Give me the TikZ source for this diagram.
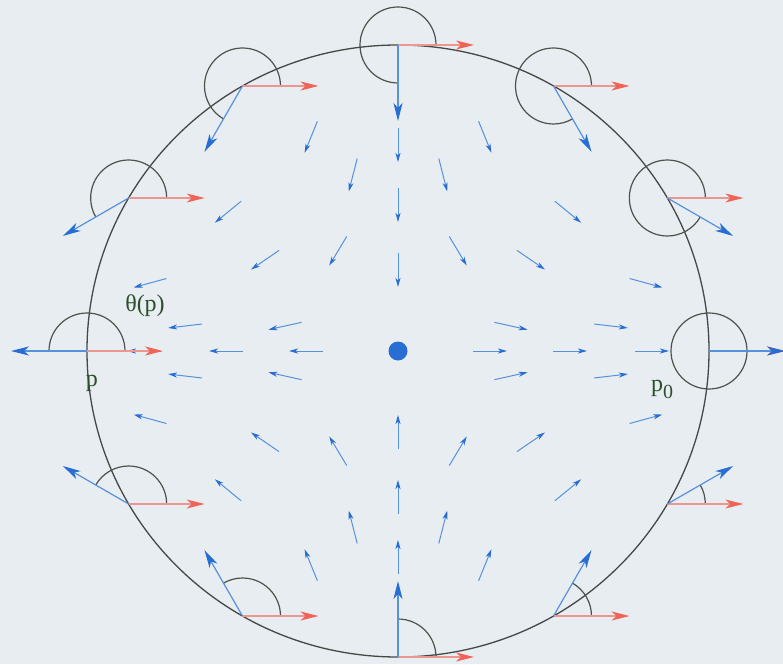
\documentclass[tikz,border=0pt]{standalone}
\usepackage{fontspec}
\setmainfont{Liberation Serif}
\usetikzlibrary{arrows.meta}
\definecolor{bgc}{RGB}{232,237,241}
\definecolor{fblue}{RGB}{85,145,220}
\definecolor{fbluehead}{RGB}{40,110,210}
\definecolor{rline}{RGB}{236,150,145}
\definecolor{rhead}{RGB}{240,100,88}
\definecolor{circc}{RGB}{70,72,70}
\definecolor{arcc}{RGB}{78,82,76}
\definecolor{labc}{RGB}{45,78,45}
\newcommand\farrow[2]{%
  \pgfmathsetmacro\fang{atan2(-(#2),#1)}%
  \pgfmathsetmacro\fangb{\fang+180}%
  \draw[farr] (#1,#2) ++(\fangb:17) -- ++(\fang:34);}
\begin{document}
\begin{tikzpicture}[x=1pt,y=1pt,
  farr/.style={draw=fblue, line width=1pt, -{Stealth[length=9pt,width=5pt,inset=2.5pt,color=fbluehead]}},
  bigblue/.style={draw=fblue, line width=1.2pt, -{Stealth[length=18pt,width=9pt,inset=5pt,color=fbluehead]}},
  redarr/.style={draw=rline, line width=1.1pt, -{Stealth[length=18pt,width=9pt,inset=5pt,color=rhead]}},
  arcst/.style={draw=arcc, line width=1.2pt},
  circst/.style={draw=circc, line width=1.3pt},
  lab/.style={text=labc, font=\fontsize{24}{28}\selectfont, inner sep=0pt}]
\fill[bgc] (-398,-313) rectangle (385,351);
\useasboundingbox (-398,-313) rectangle (385,351);
% interior field
\foreach \a/\b in {87/214, 45/176, 170/139, 133/91, 113/25, 213/25, 248/68, 60/100} {
  \farrow{-\a}{\b}
  \farrow{\a}{\b}
  \farrow{-\a}{-\b}
  \farrow{\a}{-\b}
}
\foreach \r in {92,172,254} {
  \farrow{\r}{0}
  \farrow{-\r}{0}
}
\foreach \r in {81,146,206} {
  \farrow{0}{\r}
  \farrow{0}{-\r}
}
% boundary circle
\draw[circst] (0,0) ellipse [x radius=311, y radius=306];
% boundary points
\foreach \p in {0,30,...,330} {
  \coordinate (b\p) at ({311*cos(\p)},{306*sin(\p)});
}
\foreach \p in {0,30,...,330} {
  \pgfmathsetmacro\th{360-\p}
  \draw[arcst] (b\p) ++(38,0) arc[start angle=0, end angle=\th, radius=38];
}
\foreach \p in {0,30,...,330} {
  \draw[redarr] (b\p) -- ++(76,0);
}
\foreach \p in {0,30,...,330} {
  \draw[bigblue] (b\p) -- ++(-\p:76);
}
% centre
\fill[fbluehead] (0,0) circle (9.5);
% labels
\node[lab] (thl) at (-253,45) {θ(p)};
\node[lab] (pl) at (-306,-32) {p};
\node[lab] (p0l) at (264,-38) {p\raisebox{-7pt}{\fontsize{20}{24}\selectfont 0}};
\end{tikzpicture}
\end{document}
